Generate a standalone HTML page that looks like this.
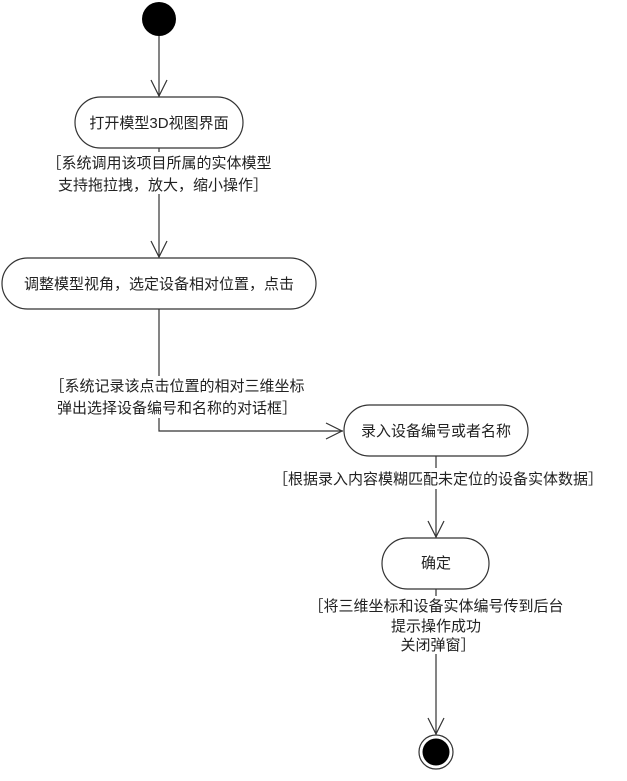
<!DOCTYPE html>
<html><head><meta charset="utf-8"><style>
body{margin:0;background:#fff}
svg text{font-family:"Liberation Sans","Noto Sans CJK SC",sans-serif;font-size:15px;fill:#222}
</style></head><body>
<svg width="627" height="776" xmlns="http://www.w3.org/2000/svg">
<g stroke="#333" stroke-width="1.2" fill="none">
<line x1="159" y1="36" x2="159" y2="97"/>
<polyline points="151,80 159,96 167,80"/>
<line x1="159" y1="148" x2="159" y2="258"/>
<polyline points="151,241 159,257 167,241"/>
<polyline points="159,309 159,431 343,431"/>
<polyline points="326,423 342,431 326,439"/>
<line x1="436" y1="456" x2="436" y2="538"/>
<polyline points="428,521 436,537 444,521"/>
<line x1="436" y1="589" x2="436" y2="735"/>
<polyline points="428,718 436,734 444,718"/>
<rect x="75" y="97" width="168" height="51" rx="25.5" fill="#fff"/>
<rect x="2" y="258" width="314" height="51" rx="25.5" fill="#fff"/>
<rect x="344" y="405" width="184" height="51" rx="25.5" fill="#fff"/>
<rect x="382" y="538" width="107" height="51" rx="25.5" fill="#fff"/>
<circle cx="436" cy="752" r="17" fill="#fff"/>
</g>
<circle cx="159" cy="19" r="17" fill="#000"/>
<circle cx="436" cy="752" r="13.5" fill="#000"/>
<g fill="#fff">
<rect x="40" y="152" width="238" height="42"/>
<rect x="33" y="376" width="290" height="42"/>
<rect x="268" y="468" width="340" height="21"/>
<rect x="302" y="596" width="268" height="58"/>
</g>
<g text-anchor="middle">
<text x="159" y="128">打开模型3D视图界面</text>
<text x="159" y="168">［系统调用该项目所属的实体模型</text>
<text x="163" y="190">支持拖拉拽，放大，缩小操作］</text>
<text x="159" y="289">调整模型视角，选定设备相对位置，点击</text>
<text x="177" y="391">［系统记录该点击位置的相对三维坐标</text>
<text x="177" y="413">弹出选择设备编号和名称的对话框］</text>
<text x="436" y="436">录入设备编号或者名称</text>
<text x="438" y="484">［根据录入内容模糊匹配未定位的设备实体数据］</text>
<text x="436" y="568">确定</text>
<text x="436" y="611">［将三维坐标和设备实体编号传到后台</text>
<text x="436" y="631">提示操作成功</text>
<text x="438" y="650">关闭弹窗］</text>
</g>
</svg>
</body></html>
